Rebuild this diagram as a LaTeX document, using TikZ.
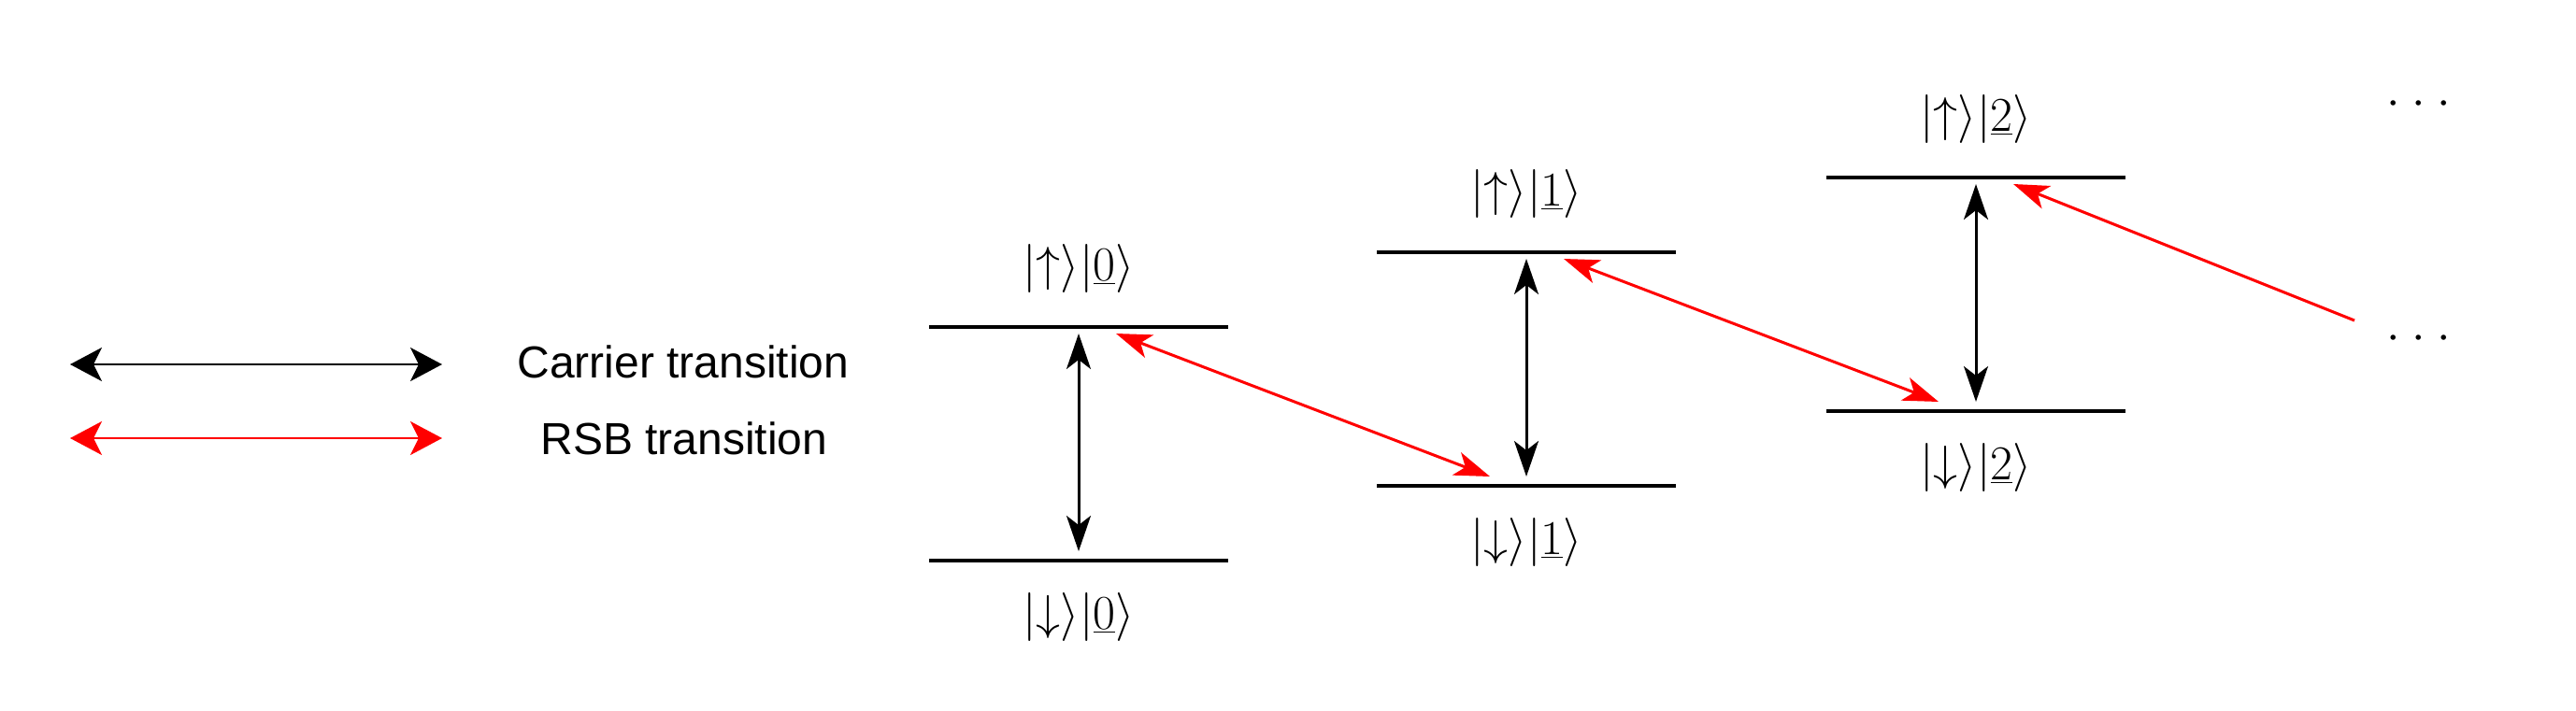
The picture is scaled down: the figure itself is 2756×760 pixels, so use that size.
\documentclass[tikz,border=0pt]{standalone}
\usepackage[no-math]{fontspec}
\newfontfamily\legendfont{Liberation Sans}
\usetikzlibrary{arrows.meta}
\begin{document}
\begin{tikzpicture}[x=0.5pt,y=-0.5pt,
  level/.style={line width=1.7pt},
  carrier/.style={line width=1.5pt,{Stealth[length=19pt,width=13pt,inset=5pt]}-{Stealth[length=19pt,width=13pt,inset=5pt]}},
  rsb/.style={red,line width=1.5pt,{Stealth[length=19pt,width=13pt,inset=5pt]}-{Stealth[length=19pt,width=13pt,inset=5pt]}},
  rsbone/.style={red,line width=1.5pt,-{Stealth[length=19pt,width=13pt,inset=5pt]}},
  legarrow/.style={line width=1.4pt,{Stealth[length=17pt,width=18pt,inset=4.5pt]}-{Stealth[length=17pt,width=18pt,inset=4.5pt]}},
  lbl/.style={inner sep=0pt,font=\fontsize{24.88}{30}\selectfont,scale=1.045},
  legtext/.style={inner sep=0pt,font=\legendfont\fontsize{24}{28}\selectfont},
]
\useasboundingbox (0,0) rectangle (2756,760);

% legend
\coordinate (lk1) at (75,390);
\coordinate (lk2) at (473,390);
\coordinate (lr1) at (75,469);
\coordinate (lr2) at (473,469);
\draw[legarrow] (lk1) -- (lk2);
\draw[legarrow,red] (lr1) -- (lr2);
\node[legtext] (tcar) at (731,387) {Carrier transition};
\node[legtext] (trsb) at (732,469) {RSB transition};

% level 0
\draw[level] (994,350) -- (1314,350);
\draw[level] (994,600) -- (1314,600);
\node[lbl] (up0lbl) at (1154,287) {$|{\uparrow}\rangle|\underline{0}\rangle$};
\node[lbl] (dn0lbl) at (1154,660) {$|{\downarrow}\rangle|\underline{0}\rangle$};
\coordinate (u0) at (1154,357);
\coordinate (d0) at (1154,590);
\coordinate (u0r) at (1194,357);

% level 1
\draw[level] (1473,270) -- (1793,270);
\draw[level] (1473,520) -- (1793,520);
\node[lbl] (up1lbl) at (1633,207) {$|{\uparrow}\rangle|\underline{1}\rangle$};
\node[lbl] (dn1lbl) at (1633,580) {$|{\downarrow}\rangle|\underline{1}\rangle$};
\coordinate (u1) at (1633,277);
\coordinate (d1) at (1633,510);
\coordinate (u1r) at (1673,277);
\coordinate (d1l) at (1594,510);

% level 2
\draw[level] (1954,190) -- (2274,190);
\draw[level] (1954,440) -- (2274,440);
\node[lbl] (up2lbl) at (2114,127) {$|{\uparrow}\rangle|\underline{2}\rangle$};
\node[lbl] (dn2lbl) at (2114,500) {$|{\downarrow}\rangle|\underline{2}\rangle$};
\coordinate (u2) at (2114,197);
\coordinate (d2) at (2114,430);
\coordinate (u2r) at (2154,197);
\coordinate (d2l) at (2074,430);

% dots
\node[lbl,anchor=base] (dtop) at (2588,123) {${\cdot}\kern6pt{\cdot}\kern6pt{\cdot}$};
\node[lbl,anchor=base] (dbot) at (2588,374) {${\cdot}\kern6pt{\cdot}\kern6pt{\cdot}$};
\coordinate (tail) at (2519,343);

% transitions
\draw[carrier] (u0) -- (d0);
\draw[carrier] (u1) -- (d1);
\draw[carrier] (u2) -- (d2);
\draw[rsb] (u0r) -- (d1l);
\draw[rsb] (u1r) -- (d2l);
\draw[rsbone] (tail) -- (u2r);
\end{tikzpicture}
\end{document}
